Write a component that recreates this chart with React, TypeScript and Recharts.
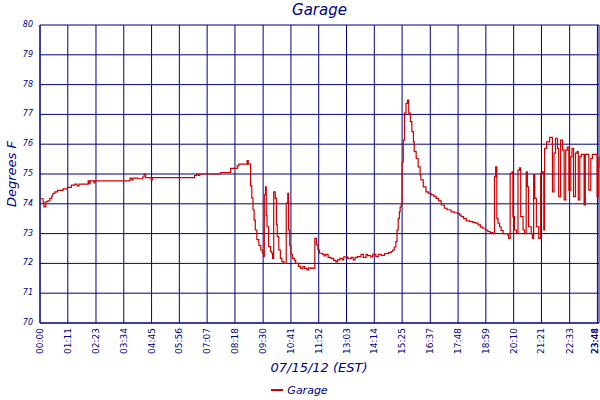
import { LineChart, Line, XAxis, YAxis, CartesianGrid, Legend } from 'recharts'

const NAVY = '#000080'
const RED = '#cc0000'
const FONT = '"DejaVu Sans", Verdana, sans-serif'

// minutes after midnight, 07/15/12
const times = [
  0, 8, 10, 15, 20, 25, 30, 33, 38, 45,
  59, 70, 80, 89, 95, 100, 123, 126, 128, 138,
  140, 230, 234, 238, 250, 262, 266, 270, 284, 287,
  395, 400, 404, 408, 461, 487, 504, 508, 529, 532,
  538, 541, 544, 547, 550, 554, 559, 564, 568, 571,
  573, 576, 578, 580, 584, 589, 592, 594, 597, 601,
  604, 606, 610, 614, 618, 623, 629, 633, 635, 638,
  641, 645, 650, 653, 660, 666, 672, 676, 682, 686,
  692, 700, 702, 706, 710, 714, 722, 726, 730, 736,
  743, 750, 756, 760, 766, 772, 776, 786, 795, 800,
  805, 811, 820, 826, 833, 837, 845, 850, 858, 864,
  871, 880, 890, 897, 901, 905, 909, 912, 915, 918,
  920, 923, 925, 928, 931, 935, 939, 942, 946, 950,
  954, 956, 961, 966, 971, 973, 979, 986, 992, 999,
  1006, 1012, 1018, 1025, 1033, 1040, 1050, 1058, 1067, 1072,
  1076, 1082, 1089, 1098, 1106, 1112, 1119, 1125, 1131, 1138,
  1144, 1150, 1157, 1161, 1164, 1167, 1170, 1174, 1178, 1183,
  1195, 1197, 1201, 1206, 1208, 1212, 1217, 1221, 1225, 1228,
  1234, 1238, 1242, 1245, 1248, 1255, 1258, 1261, 1264, 1268,
  1274, 1279, 1283, 1287, 1289, 1294, 1302, 1309, 1313, 1317,
  1322, 1325, 1330, 1335, 1339, 1343, 1347, 1351, 1356, 1359,
  1363, 1368, 1372, 1375, 1379, 1383, 1390, 1393, 1402, 1407,
  1411, 1423, 1426, 1428,
]

const temps = [
  74.17, 74.05, 73.9, 74.07, 74.1, 74.18, 74.27, 74.35, 74.4, 74.45,
  74.5, 74.55, 74.63, 74.66, 74.6, 74.66, 74.77, 74.68, 74.77, 74.7,
  74.77, 74.86, 74.8, 74.86, 74.84, 74.9, 75.0, 74.88, 74.8, 74.88,
  74.95, 75.0, 74.95, 75.0, 75.05, 75.19, 75.27, 75.33, 75.45, 75.33,
  74.6, 74.2, 73.8, 73.45, 73.12, 72.8, 72.6, 72.45, 72.35, 72.23,
  74.3, 74.57, 73.6, 73.23, 72.56, 72.4, 72.34, 72.17, 74.4, 74.18,
  73.3, 72.9, 72.45, 72.17, 72.06, 72.0, 74.02, 74.35, 73.12, 72.6,
  72.3, 72.17, 72.1, 72.0, 71.9, 71.83, 71.9, 71.83, 71.78, 71.85,
  71.83, 71.85, 72.84, 72.62, 72.45, 72.34, 72.3, 72.25, 72.3, 72.2,
  72.17, 72.1, 72.05, 72.12, 72.17, 72.12, 72.22, 72.17, 72.2, 72.12,
  72.2, 72.23, 72.3, 72.2, 72.3, 72.26, 72.22, 72.3, 72.23, 72.3,
  72.27, 72.33, 72.36, 72.4, 72.45, 72.55, 72.73, 73.12, 73.5, 73.73,
  73.9, 74.0, 75.4, 76.14, 77.04, 77.37, 77.48, 77.04, 76.76, 76.42,
  76.08, 75.75, 75.52, 75.24, 74.97, 74.8, 74.57, 74.4, 74.35, 74.3,
  74.25, 74.18, 74.1, 73.96, 73.85, 73.8, 73.73, 73.7, 73.68, 73.62,
  73.57, 73.5, 73.43, 73.4, 73.38, 73.35, 73.29, 73.22, 73.18, 73.12,
  73.07, 73.03, 73.0, 74.91, 75.24, 73.5, 73.35, 73.23, 73.1, 73.0,
  72.95, 72.84, 75.02, 75.07, 73.57, 73.12, 73.0, 75.13, 75.21, 73.57,
  73.12, 73.0, 75.07, 74.57, 73.23, 73.0, 72.84, 74.97, 74.18, 73.23,
  72.84, 75.02, 75.07, 73.12, 75.86, 76.08, 76.23, 74.4, 75.7, 76.2,
  75.86, 74.24, 76.14, 75.8, 74.13, 75.8, 75.9, 74.46, 75.58, 75.86,
  74.24, 75.7, 75.75, 74.13, 75.58, 75.66, 73.96, 75.66, 74.46, 75.52,
  75.66, 74.24, 75.24, 75.58,
]

const xTicks = [
  0, 71, 143, 214, 285, 356, 427, 498, 570, 641, 712,
  783, 854, 925, 997, 1068, 1139, 1210, 1281, 1353, 1424, 1428,
]
const yTicks = [70, 71, 72, 73, 74, 75, 76, 77, 78, 79, 80]

const data = times.map((t, i) => ({ t, Garage: temps[i] }))

const hhmm = (m: number) => {
  const h = Math.floor(m / 60)
  const mm = m % 60
  return `${String(h).padStart(2, '0')}:${String(mm).padStart(2, '0')}`
}

// rotated labels; keep the last two inside the page edge
const XTick = ({ x, payload }: any) => (
  <text transform={`translate(${Math.min(x + 3, 598)},328) rotate(-90)`} textAnchor="end"
        fontSize={9} fill={NAVY} fontFamily={FONT}>
    {hhmm(payload.value)}
  </text>
)

const YTick = ({ y, payload }: any) => (
  <text x={33} y={y + 2} textAnchor="end" fontSize={8} fontStyle="italic"
        fill={NAVY} fontFamily={FONT}>
    {payload.value}
  </text>
)

export default function App() {
  return (
    <div style={{ position: 'relative', width: 600, height: 400, fontFamily: FONT }}>
      <style>{'body{margin:0}'}</style>
      <div style={{
        position: 'absolute', top: 0, left: 40, width: 559, textAlign: 'center',
        color: NAVY, fontStyle: 'italic', fontSize: 15, lineHeight: '20px', zIndex: 1,
      }}>
        Garage
      </div>
      <LineChart width={600} height={400} data={data}
                 margin={{ top: 25, right: 1, bottom: 0, left: 0 }}>
        <CartesianGrid stroke={NAVY} strokeWidth={1} />
        <XAxis dataKey="t" type="number" domain={[0, 1428]} ticks={xTicks}
               interval={0} height={57} tick={<XTick />} tickLine={false}
               axisLine={{ stroke: NAVY }}
               label={{
                 content: () => (
                   <text x={319} y={372} textAnchor="middle" fontSize={13}
                         fontStyle="italic" fill={NAVY} fontFamily={FONT}>
                     07/15/12 (EST)
                   </text>
                 ),
               }} />
        <YAxis type="number" domain={[70, 80]} ticks={yTicks} width={40}
               tick={<YTick />} tickLine={false} axisLine={{ stroke: NAVY }}
               label={{
                 content: () => (
                   <text transform="translate(16,174) rotate(-90)" textAnchor="middle"
                         fontSize={13} fontStyle="italic" fill={NAVY} fontFamily={FONT}>
                     Degrees F
                   </text>
                 ),
               }} />
        <Legend verticalAlign="bottom" height={20}
                content={() => (
                  <div style={{
                    display: 'flex', justifyContent: 'center', alignItems: 'center',
                    height: 20, color: NAVY, fontStyle: 'italic', fontSize: 11,
                  }}>
                    <span style={{ display: 'inline-block', width: 12, height: 2,
                                   background: RED, marginRight: 4 }} />
                    Garage
                  </div>
                )} />
        <Line type="stepAfter" dataKey="Garage" stroke={RED} strokeWidth={1.2}
              dot={false} isAnimationActive={false} />
      </LineChart>
    </div>
  )
}
